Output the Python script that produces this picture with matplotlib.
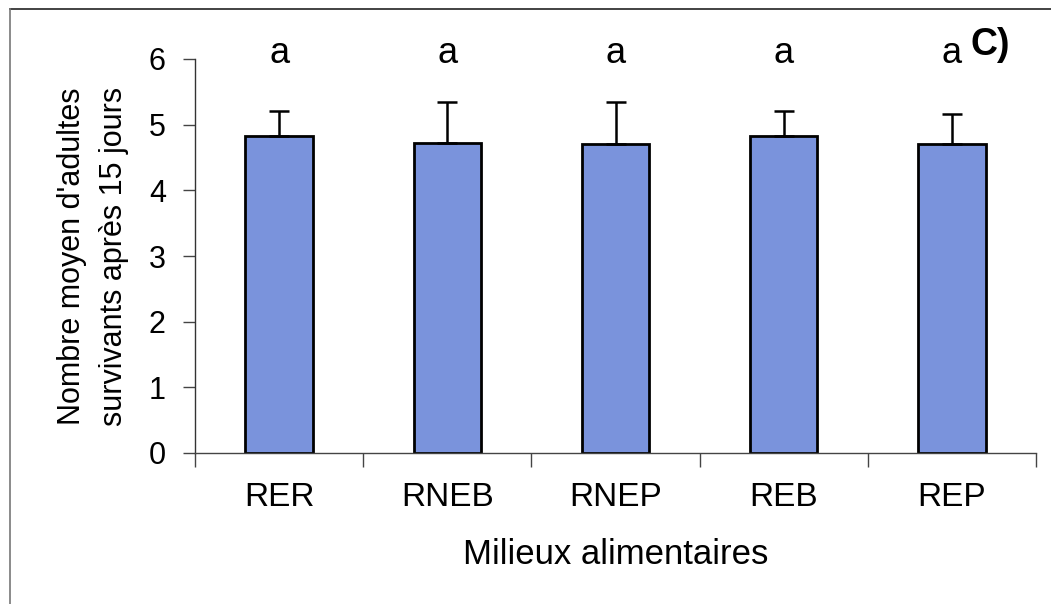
import matplotlib
matplotlib.use("Agg")
import matplotlib.pyplot as plt
from matplotlib.lines import Line2D
import numpy as np

categories = ["RER", "RNEB", "RNEP", "REB", "REP"]
means = [4.83, 4.72, 4.71, 4.82, 4.71]
err_up = [0.38, 0.63, 0.64, 0.39, 0.46]
letters = ["a", "a", "a", "a", "a"]
yticks = [0, 1, 2, 3, 4, 5, 6]

plt.rcParams['font.family'] = ['Liberation Sans', 'DejaVu Sans']

W, H = 1051, 604
fig = plt.figure(figsize=(W / 100, H / 100), dpi=100)
ax = fig.add_axes([195 / W, 1 - 453 / H, (1036 - 195) / W, (453 - 59) / H])

x = np.arange(len(categories))
ax.bar(x, means, width=0.4, color='#7a93dc', edgecolor='black', linewidth=2, zorder=2)
ax.errorbar(x, means, yerr=[np.zeros(len(means)), err_up], fmt='none',
            ecolor='black', elinewidth=1.8, capsize=7.5, capthick=1.8, zorder=3)
for xi, lab in zip(x, letters):
    ax.text(xi, 6.08, lab, ha='center', va='center', fontsize=26, clip_on=False)

ax.set_xlim(-0.5, len(categories) - 0.5)
ax.set_ylim(0, 6)
ax.set_yticks(yticks)
ax.set_yticklabels([str(v) for v in yticks], fontsize=22)
ax.set_xticks(np.arange(len(categories) + 1) - 0.5)
ax.set_xticklabels([])
ax.set_xticks(x, minor=True)
ax.set_xticklabels(categories, minor=True, fontsize=24)
ax.tick_params(axis='x', which='major', direction='out', length=10, width=1, color='#444444')
ax.tick_params(axis='x', which='minor', length=0, pad=21)
ax.tick_params(axis='y', direction='out', length=9, width=1, color='#444444', pad=12)

for s in ['top', 'right']:
    ax.spines[s].set_visible(False)
ax.spines['left'].set_color('#333333')
ax.spines['bottom'].set_color('#444444')
ax.spines['left'].set_linewidth(1)
ax.spines['bottom'].set_linewidth(1)

ax.set_xlabel("Milieux alimentaires", fontsize=25, labelpad=18)
ax.set_ylabel("Nombre moyen d'adultes\nsurvivants après 15 jours", fontsize=22,
              labelpad=14, linespacing=1.55)

fig.text(990 / W, 1 - 45 / H, "C)", fontsize=27, fontweight='bold', ha='center', va='center')

fig.add_artist(Line2D([10 / W, 1.0], [1 - 9 / H, 1 - 9 / H], color='#222222', lw=1.2,
                      transform=fig.transFigure))
fig.add_artist(Line2D([10 / W, 10 / W], [0, 1 - 9 / H], color='#777777', lw=1.2,
                      transform=fig.transFigure))

fig.savefig("out.png", dpi=100)
